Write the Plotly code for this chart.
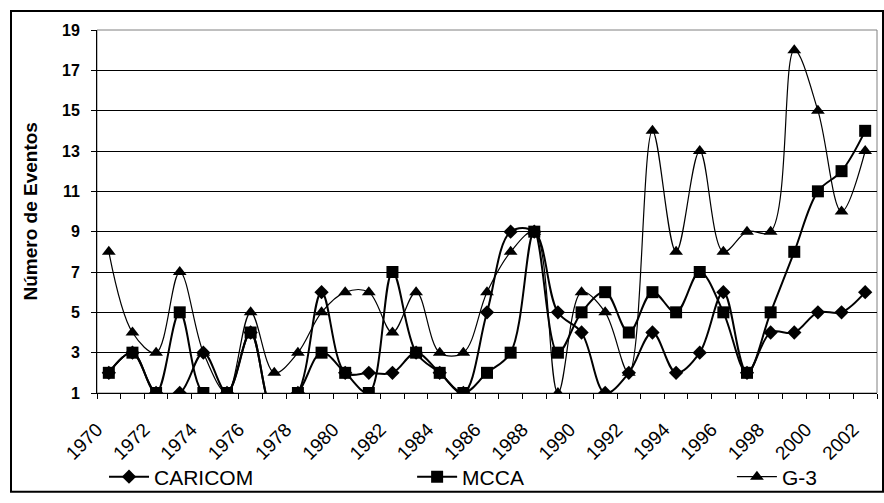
import plotly.graph_objects as go

years = list(range(1970, 2003))
caricom = [2, 3, 1, 1, 3, 1, 4, 0, 1, 6, 2, 2, 2, 3, 2, 1, 5, 9, 9, 5, 4, 1, 2, 4, 2, 3, 6, 2, 4, 4, 5, 5, 6]
mcca = [2, 3, 1, 5, 1, 1, 4, 0, 1, 3, 2, 1, 7, 3, 2, 1, 2, 3, 9, 3, 5, 6, 4, 6, 5, 7, 5, 2, 5, 8, 11, 12, 14]
g3 = [8, 4, 3, 7, 3, 1, 5, 2, 3, 5, 6, 6, 4, 6, 3, 3, 6, 8, 9, 1, 6, 5, 2, 14, 8, 13, 8, 9, 9, 18, 15, 10, 13]
y_ticks = list(range(1, 20, 2))
label_every = 2

FONT = "Liberation Sans, Arial, sans-serif"

fig = go.Figure()
series = [
    ("CARICOM", caricom, "diamond", 11, 2, "legend"),
    ("MCCA", mcca, "square", 12, 2, "legend2"),
    ("G-3", g3, "triangle-up", 12, 1.2, "legend3"),
]
for name, vals, sym, msize, lw, leg in series:
    fig.add_trace(go.Scatter(
        x=years, y=vals, name=name, mode="lines+markers",
        line=dict(color="black", width=lw, shape="spline", smoothing=1.0),
        marker=dict(symbol=sym, size=msize, color="black"),
        cliponaxis=True, legend=leg,
    ))

# tick marks at every category boundary; label every other year
tickvals = [y - 0.5 for y in years] + [years[-1] + 0.5]
ticktext = [str(y) if (y - years[0]) % label_every == 0 else "" for y in years] + [""]

def leg(x):
    return dict(
        orientation="h", x=x, xanchor="left", y=-0.228, yanchor="middle",
        font=dict(size=21, family=FONT), itemwidth=40,
        bgcolor="rgba(0,0,0,0)",
    )

fig.update_layout(
    width=884, height=503,
    margin=dict(l=97, r=7, t=30, b=109),
    paper_bgcolor="white", plot_bgcolor="white",
    font=dict(family=FONT, color="black"),
    showlegend=True,
    legend=leg(0.009),
    legend2=leg(0.404),
    legend3=leg(0.814),
    xaxis=dict(
        range=[years[0] - 0.5, years[-1] + 0.5],
        tickmode="array", tickvals=tickvals, ticktext=ticktext,
        tickangle=-45, ticks="outside", ticklen=5, tickcolor="black",
        showline=True, linecolor="black", linewidth=1,
        showgrid=False, zeroline=False,
        tickfont=dict(size=19, family=FONT),
        ticklabelstandoff=12,
    ),
    yaxis=dict(
        range=[1, 19], tickmode="array", tickvals=y_ticks,
        ticks="outside", ticklen=5, tickcolor="black",
        showline=True, linecolor="black", linewidth=1,
        showgrid=True, gridcolor="black", gridwidth=1,
        zeroline=False,
        tickfont=dict(size=16, family=FONT, weight="bold"),
        ticklabelstandoff=8,
    ),
    annotations=[dict(
        text="<b>Número de Eventos</b>", textangle=-90,
        xref="paper", yref="paper", x=(30 - 97) / 780, y=0.5,
        xanchor="center", yanchor="middle",
        showarrow=False, font=dict(size=19, family=FONT),
    )],
    shapes=[
        dict(type="rect", xref="paper", yref="paper", x0=0, y0=0, x1=1, y1=1,
             line=dict(color="#808080", width=1), layer="below"),
        dict(type="rect", xref="paper", yref="paper",
             x0=(11 - 97) / 780, x1=(883 - 97) / 780,
             y0=(394 - 493) / 364, y1=(394 - 11) / 364,
             line=dict(color="black", width=2)),
    ],
)

fig.write_html("out.html")
